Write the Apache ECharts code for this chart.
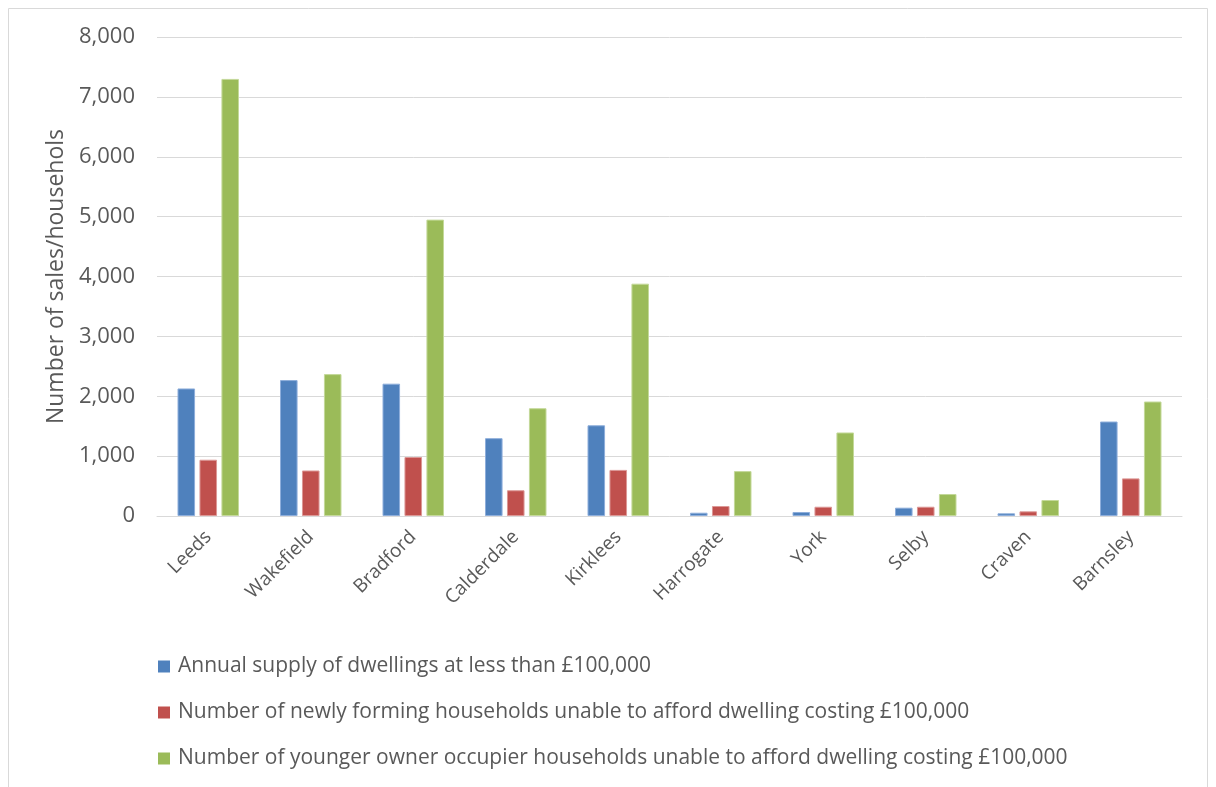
<!DOCTYPE html>
<html><head><meta charset="utf-8">
<script src="https://cdn.jsdelivr.net/npm/echarts@6/dist/echarts.min.js"></script>
<style>html,body{margin:0;padding:0;background:#fff;}#c{width:1216px;height:787px;}</style>
</head><body><div id="c"></div>
<script>
const categories = ["Leeds","Wakefield","Bradford","Calderdale","Kirklees","Harrogate","York","Selby","Craven","Barnsley"];
const seriesNames = [
  "Annual supply of dwellings at less than £100,000",
  "Number of newly forming households unable to afford dwelling costing £100,000",
  "Number of younger owner occupier households unable to afford dwelling costing £100,000"
];
const annualSupply = [2130, 2270, 2210, 1300, 1515, 55, 67, 139, 45, 1578];
const newlyForming = [940, 760, 985, 430, 770, 167, 155, 155, 78, 628];
const youngerOwner = [7300, 2370, 4950, 1800, 3880, 750, 1395, 367, 267, 1912];
const yTicks = [0, 1000, 2000, 3000, 4000, 5000, 6000, 7000, 8000];
const colors = ["#4f81bd", "#c0504d", "#9bbb59"];
const borders = ["#8eaedb", "#dc9896", "#c4d99a"];

const chart = echarts.init(document.getElementById('c'), null, {renderer:'canvas'});
const font = "'Open Sans', 'Noto Sans', sans-serif";
const values = [annualSupply, newlyForming, youngerOwner];
chart.setOption({
  animation: false,
  textStyle: {fontFamily: font},
  graphic: [{type:'rect', shape:{x:8.5,y:8.5,width:1199,height:790}, style:{fill:'none', stroke:'#d9d9d9', lineWidth:1}, silent:true}],
  grid: {left:157, right:34, top:37, bottom:271, containLabel:false},
  legend: {
    orient:'vertical', left:153, top:651, itemGap:25, itemWidth:12, itemHeight:12,
    icon:'rect',
    itemStyle:{borderWidth:0},
    textStyle:{fontSize:21, color:'#595959', fontFamily:font, padding:[0,0,0,3]},
    data: seriesNames
  },
  xAxis: {
    type:'category', data: categories,
    axisLine:{lineStyle:{color:'#d9d9d9', width:1}},
    axisTick:{show:false},
    axisLabel:{rotate:45, fontSize:19, color:'#595959', margin:18, interval:0, fontFamily:font}
  },
  yAxis: {
    type:'value', min: yTicks[0], max: yTicks[yTicks.length-1], interval:1000,
    name:'Number of sales/househols', nameLocation:'middle', nameGap:84,
    nameTextStyle:{fontSize:23, color:'#595959', fontFamily:font},
    axisLine:{show:false}, axisTick:{show:false},
    splitLine:{lineStyle:{color:'#d9d9d9', width:1}},
    axisLabel:{fontSize:22, color:'#595959', margin:22, fontFamily:font,
      formatter: v => v.toLocaleString('en-US')}
  },
  series: seriesNames.map((n,i)=>({
    name:n, type:'bar', data: values[i],
    barGap:'25%', barCategoryGap:'40%',
    itemStyle:{color:colors[i], borderColor:borders[i], borderWidth:1}
  }))
});
</script></body></html>
